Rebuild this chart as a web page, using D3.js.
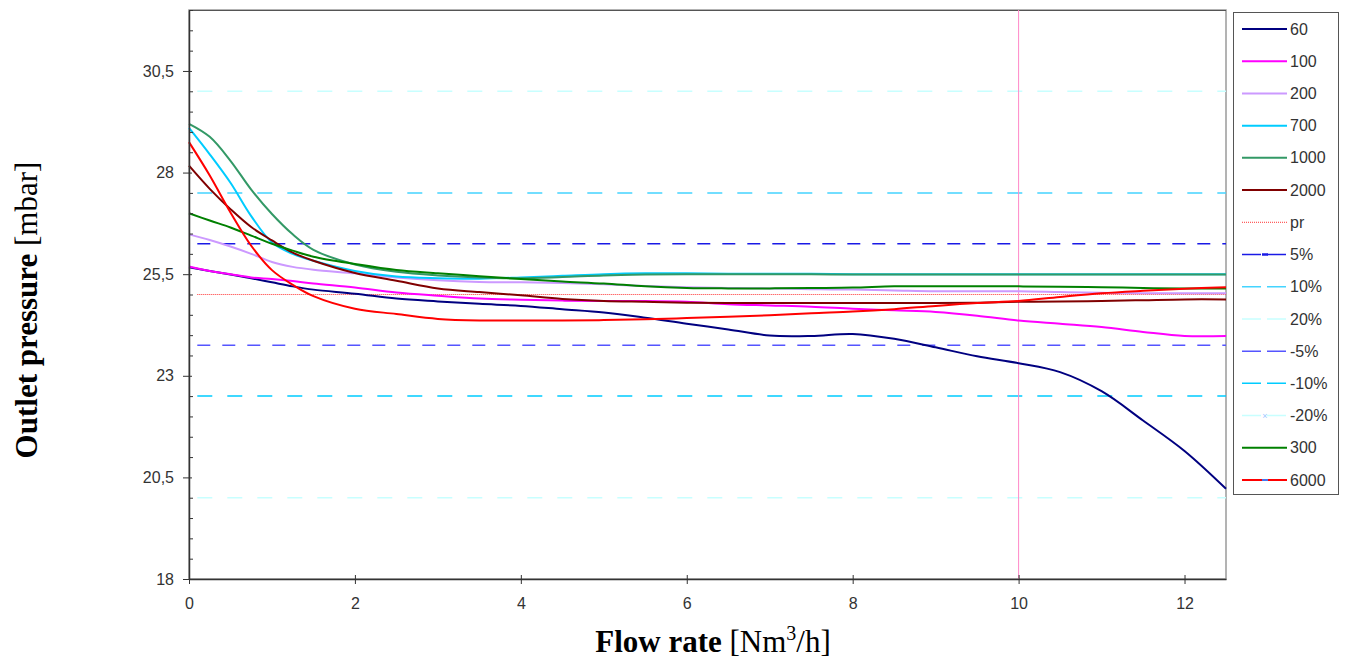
<!DOCTYPE html>
<html>
<head>
<meta charset="utf-8">
<script src="https://cdn.jsdelivr.net/npm/d3@7/dist/d3.min.js"></script>
<style>
  html, body { margin: 0; padding: 0; background: #fff; }
  svg { display: block; }
</style>
</head>
<body>
<script>
// ---------- DATA ----------
const flow = [0, 0.25, 0.5, 0.75, 1, 1.25, 1.5, 2, 2.5, 3, 3.5, 4, 4.5, 5, 5.5, 6, 6.5, 7, 7.5, 8, 8.5, 9, 9.5, 10, 10.5, 11, 11.5, 12, 12.5];

const s60   = [25.67, 25.58, 25.49, 25.40, 25.30, 25.20, 25.12, 25.02, 24.90, 24.83, 24.77, 24.72, 24.64, 24.56, 24.43, 24.28, 24.14, 23.99, 23.98, 24.03, 23.91, 23.70, 23.48, 23.31, 23.09, 22.62, 21.90, 21.15, 20.22];
const s100  = [25.69, 25.58, 25.50, 25.42, 25.38, 25.33, 25.27, 25.17, 25.05, 24.97, 24.90, 24.87, 24.85, 24.84, 24.84, 24.82, 24.76, 24.73, 24.70, 24.65, 24.61, 24.57, 24.48, 24.36, 24.28, 24.20, 24.08, 23.98, 23.98];
const s200  = [26.48, 26.34, 26.18, 26.00, 25.80, 25.68, 25.61, 25.52, 25.42, 25.35, 25.31, 25.30, 25.28, 25.25, 25.21, 25.18, 25.16, 25.15, 25.13, 25.12, 25.10, 25.08, 25.08, 25.08, 25.06, 25.04, 25.03, 25.03, 25.03];
const s700  = [29.10, 28.45, 27.75, 26.93, 26.28, 26.00, 25.83, 25.58, 25.44, 25.40, 25.39, 25.42, 25.46, 25.50, 25.52, 25.52, 25.51, 25.51, 25.51, 25.50, 25.50, 25.50, 25.50, 25.50, 25.50, 25.50, 25.50, 25.50, 25.50];
const s1000 = [29.20, 28.88, 28.29, 27.58, 26.98, 26.48, 26.10, 25.74, 25.56, 25.47, 25.42, 25.40, 25.43, 25.47, 25.49, 25.50, 25.50, 25.50, 25.50, 25.49, 25.49, 25.49, 25.49, 25.49, 25.49, 25.49, 25.49, 25.49, 25.49];
const s2000 = [28.17, 27.60, 27.10, 26.66, 26.33, 26.03, 25.83, 25.53, 25.34, 25.15, 25.06, 24.98, 24.89, 24.84, 24.82, 24.80, 24.79, 24.79, 24.79, 24.79, 24.79, 24.79, 24.80, 24.82, 24.83, 24.84, 24.86, 24.88, 24.88];
const s300  = [27.00, 26.82, 26.65, 26.45, 26.25, 26.08, 25.93, 25.75, 25.60, 25.52, 25.45, 25.38, 25.32, 25.27, 25.20, 25.16, 25.15, 25.15, 25.16, 25.17, 25.20, 25.20, 25.20, 25.20, 25.19, 25.18, 25.16, 25.15, 25.15];
const s6000 = [28.75, 27.93, 27.02, 26.20, 25.60, 25.24, 24.96, 24.65, 24.52, 24.40, 24.36, 24.36, 24.36, 24.37, 24.39, 24.42, 24.45, 24.49, 24.54, 24.58, 24.64, 24.72, 24.79, 24.84, 24.94, 25.03, 25.09, 25.14, 25.18];

// reference levels: nominal pressure and tolerance bands
const refNames  = ["pr", "5%", "10%", "20%", "-5%", "-10%", "-20%"];
const refValues = [25, 26.25, 27.5, 30, 23.75, 22.5, 20];
const refRange  = [0.1, 12.5];

const markerFlow = 10;   // vertical marker line

const yTickValues = [18, 20.5, 23, 25.5, 28, 30.5];
const xTickValues = [0, 2, 4, 6, 8, 10, 12];

// legend order
const legendOrder = ["60", "100", "200", "700", "1000", "2000", "pr", "5%", "10%", "20%", "-5%", "-10%", "-20%", "300", "6000"];

// ---------- STYLES ----------
const curveSeries = [
  {name: "60",   values: s60,   color: "#000080"},
  {name: "100",  values: s100,  color: "#FF00FF"},
  {name: "200",  values: s200,  color: "#CC99FF"},
  {name: "700",  values: s700,  color: "#00CCFF"},
  {name: "1000", values: s1000, color: "#339966"},
  {name: "2000", values: s2000, color: "#800000"},
  {name: "300",  values: s300,  color: "#008000"},
  {name: "6000", values: s6000, color: "#FF0000"}
];
const refStyle = {
  "pr":   {color: "#FF3333", dash: "1,1", width: 1},
  "5%":   {color: "#1a1aE6", dash: "13,12", width: 1.5},
  "10%":  {color: "#44D4FF", dash: "15,15", width: 1.5},
  "20%":  {color: "#C8FFFF", dash: "15,15", width: 1.5},
  "-5%":  {color: "#5555FF", dash: "13,12", width: 1.5},
  "-10%": {color: "#00CCFF", dash: "15,15", width: 1.5},
  "-20%": {color: "#C8FFFF", dash: "15,15", width: 1.5}
};

// ---------- CHART ----------
const W = 1346, H = 662;
const plot = {left: 189, right: 1226, top: 10, bottom: 579};

const svg = d3.select("body").append("svg").attr("width", W).attr("height", H)
  .style("font-family", "'Liberation Sans', Arial, sans-serif");

const x = d3.scaleLinear().domain([0, 12.5]).range([plot.left, plot.right]);
const y = d3.scaleLinear().domain([18, 32]).range([plot.bottom, plot.top]);

// frame
svg.append("rect")
  .attr("x", plot.left).attr("y", plot.top)
  .attr("width", plot.right - plot.left).attr("height", plot.bottom - plot.top)
  .attr("fill", "none").attr("stroke", "#9a9a9a").attr("stroke-width", 1.5);
svg.append("line").attr("x1", plot.left).attr("x2", plot.right).attr("y1", plot.top + 0.5).attr("y2", plot.top + 0.5)
  .attr("stroke", "#555").attr("stroke-width", 1);

// reference lines
const refGroup = svg.append("g");
refNames.forEach((n, i) => {
  const st = refStyle[n];
  refGroup.append("line")
    .attr("x1", x(refRange[0])).attr("x2", x(refRange[1]))
    .attr("y1", y(refValues[i])).attr("y2", y(refValues[i]))
    .attr("stroke", st.color).attr("stroke-width", st.width)
    .attr("stroke-dasharray", st.dash);
});

// vertical marker
svg.append("line")
  .attr("x1", x(markerFlow)).attr("x2", x(markerFlow))
  .attr("y1", plot.top).attr("y2", plot.bottom)
  .attr("stroke", "#FF88C8").attr("stroke-width", 1);

// curves
const line = d3.line().x((d, i) => x(flow[i])).y(d => y(d)).curve(d3.curveCatmullRom.alpha(0.5));
curveSeries.forEach(s => {
  svg.append("path").datum(s.values)
    .attr("d", line)
    .attr("fill", "none").attr("stroke", s.color).attr("stroke-width", 2);
});

// Y axis
const fmt = d => String(d).replace(".", ",");
const yAxis = svg.append("g").attr("transform", `translate(${plot.left},0)`)
  .call(d3.axisLeft(y).tickValues(yTickValues).tickFormat(fmt).tickSizeInner(6).tickSizeOuter(0).tickPadding(9));
yAxis.select(".domain").attr("stroke", "#333").attr("stroke-width", 1.5);
yAxis.selectAll(".tick line").attr("x2", 3).attr("x1", -6).attr("stroke", "#333");
yAxis.selectAll("text").attr("font-size", 16).attr("fill", "#333")
  .style("font-family", "'Liberation Sans', Arial, sans-serif");

const yMinor = svg.append("g").attr("transform", `translate(${plot.left},0)`)
  .call(d3.axisLeft(y).tickValues(d3.range(18, 32.001, 0.5).filter(v => !yTickValues.includes(v))).tickSize(-4).tickFormat(""));
yMinor.select(".domain").remove();
yMinor.selectAll(".tick line").attr("stroke", "#333");

// X axis
const xAxis = svg.append("g").attr("transform", `translate(0,${plot.bottom})`)
  .call(d3.axisBottom(x).tickValues(xTickValues).tickSizeInner(5).tickSizeOuter(0).tickPadding(14));
xAxis.select(".domain").attr("stroke", "#333").attr("stroke-width", 1.5);
xAxis.selectAll(".tick line").attr("y1", -4).attr("stroke", "#333");
xAxis.selectAll("text").attr("font-size", 16).attr("fill", "#333")
  .style("font-family", "'Liberation Sans', Arial, sans-serif");

// axis titles
const serif = "'Liberation Serif', 'Times New Roman', serif";
const yt = svg.append("text")
  .attr("transform", "translate(37,310) rotate(-90)")
  .attr("text-anchor", "middle")
  .style("font-family", serif).attr("font-size", 31).attr("fill", "#000");
yt.append("tspan").attr("font-weight", "bold").text("Outlet pressure");
yt.append("tspan").text(" [mbar]");

const xt = svg.append("text")
  .attr("x", 713).attr("y", 652)
  .attr("text-anchor", "middle")
  .style("font-family", serif).attr("font-size", 31).attr("fill", "#000");
xt.append("tspan").attr("font-weight", "bold").text("Flow rate");
xt.append("tspan").text(" [Nm");
xt.append("tspan").attr("font-size", 20).attr("dy", -12).text("3");
xt.append("tspan").attr("dy", 12).text("/h]");

// legend
const lg = svg.append("g");
lg.append("rect").attr("x", 1233.5).attr("y", 12.5).attr("width", 105).attr("height", 482)
  .attr("fill", "#fff").attr("stroke", "#555").attr("stroke-width", 1);
const legendY = d3.scalePoint().domain(legendOrder).range([29, 480]);
legendOrder.forEach(n => {
  const cs = curveSeries.find(s => s.name === n);
  const ly = legendY(n);
  let color, dash = null, width = 2;
  if (cs) { color = cs.color; }
  else {
    const st = refStyle[n];
    color = st.color; width = st.width === 1 ? 1 : 1.5;
    dash = n === "pr" ? "1,1" : "19,6";
  }
  lg.append("line").attr("x1", 1242).attr("x2", 1287).attr("y1", ly).attr("y2", ly)
    .attr("stroke", color).attr("stroke-width", width)
    .attr("stroke-dasharray", dash);
  if (n === "5%") {
    lg.append("line").attr("x1", 1262).attr("x2", 1268).attr("y1", ly).attr("y2", ly)
      .attr("stroke", "#1a1aE6").attr("stroke-width", 2.5);
  }
  if (n === "6000") {
    lg.append("line").attr("x1", 1262).attr("x2", 1268).attr("y1", ly).attr("y2", ly)
      .attr("stroke", "#4477EE").attr("stroke-width", 2);
  }
  if (n === "-20%") {
    lg.append("text").attr("x", 1265).attr("y", ly + 3).attr("text-anchor", "middle")
      .attr("font-size", 9).attr("fill", "#9CC8FF").text("×");
  }
  lg.append("text").attr("x", 1290).attr("y", ly).attr("dy", "0.35em")
    .attr("font-size", 16).attr("fill", "#333").text(n);
});
</script>
</body>
</html>
